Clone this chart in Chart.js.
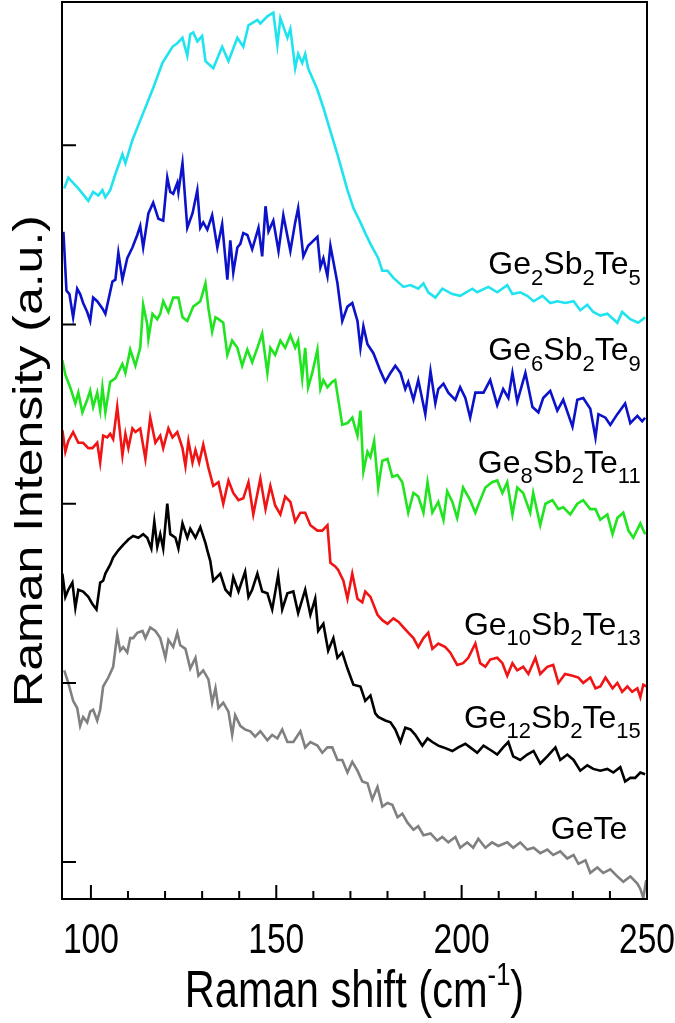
<!DOCTYPE html>
<html>
<head>
<meta charset="utf-8">
<script src="https://cdn.jsdelivr.net/npm/chart.js@4.4.1/dist/chart.umd.min.js"></script>
<style>
  html, body { margin: 0; padding: 0; background: #fff; }
  canvas { display: block; }
</style>
</head>
<body>
<canvas id="chart" width="675" height="1023"></canvas>
<script>
// AXIS TICKS
const xTicks = [100, 150, 200, 250];
const xMinorTicks = [110, 120, 130, 140, 160, 170, 180, 190, 210, 220, 230, 240];
const yTicks = [0, 100, 200, 300, 400];

// SAMPLE NAMES (digits are drawn as subscripts)
const sampleNames = ['Ge2Sb2Te5', 'Ge6Sb2Te9', 'Ge8Sb2Te11', 'Ge10Sb2Te13', 'Ge12Sb2Te15', 'GeTe'];

// Ge2Sb2Te5 (cyan)
const gst225X = [92.8, 93.9, 95.2, 96.6, 99.3, 100.6, 102.0, 103.1, 103.9, 105.2, 106.6, 108.5, 109.3, 111.2, 113.9, 116.8, 119.3, 122.0, 123.3, 124.7,
  126.0, 126.8, 127.6, 128.7, 130.0, 130.9, 133.0, 135.4, 137.1, 139.5, 141.1, 142.5, 144.9, 145.7, 147.6, 149.2, 150.3, 151.1, 153.0, 153.8,
  155.1, 155.9, 157.0, 157.8, 158.6, 161.1, 162.7, 164.6, 166.5, 169.2, 170.8, 172.7, 174.0, 175.4, 177.5, 178.6, 180.0, 181.6, 184.3, 186.2,
  188.3, 189.7, 191.0, 192.9, 194.8, 197.5, 199.6, 202.9, 204.2, 207.2, 209.6, 212.3, 213.7, 215.8, 217.7, 219.4, 221.8, 223.9, 225.8, 228.0,
  230.2, 232.0, 233.9, 235.5, 237.4, 239.3, 242.0, 243.3, 245.5, 247.6, 249.5];
const gst225Y = [376, 382, 379, 376, 369, 374, 372, 375, 371, 375, 384, 395, 390, 403, 417, 432, 446, 455, 457, 460,
  450, 462, 463, 458, 461, 447, 443, 455, 447, 460, 455, 467, 470, 468, 472, 474, 456, 471, 460, 465,
  443, 451, 446, 451, 443, 431, 421, 408, 395, 375, 365, 357, 351, 345, 337, 330, 330, 326, 321, 322,
  320, 323, 318, 315, 320, 317, 316, 320, 318, 321, 318, 322, 317, 318, 316, 313, 316, 312, 313, 312,
  313, 308, 311, 307, 305, 306, 301, 307, 303, 301, 304];

// Ge6Sb2Te9 (blue)
const gst629X = [92.2, 92.6, 93.4, 94.2, 95.2, 96.3, 97.1, 97.9, 99.0, 99.8, 100.6, 101.7, 103.1, 103.9, 105.8, 106.6, 107.4, 108.5, 109.8, 111.2,
  112.5, 113.3, 114.1, 115.5, 116.8, 118.2, 119.5, 120.6, 121.4, 122.2, 123.3, 123.6, 124.7, 126.0, 127.4, 128.7, 129.5, 130.3, 131.4, 132.7,
  134.1, 135.4, 136.8, 137.6, 138.4, 139.5, 140.3, 141.1, 142.2, 143.5, 145.2, 146.2, 147.1, 147.9, 149.2, 150.6, 151.9, 153.8, 155.1, 155.9,
  157.3, 158.6, 161.1, 161.9, 162.7, 163.8, 164.6, 166.5, 167.8, 169.2, 170.5, 171.9, 172.7, 173.5, 174.6, 176.2, 178.1, 179.4, 180.8, 182.1,
  183.5, 184.8, 185.6, 187.0, 188.3, 190.2, 191.6, 192.9, 193.7, 195.1, 196.4, 198.3, 199.6, 201.0, 202.3, 203.7, 205.9, 207.7, 209.6, 211.2,
  212.6, 213.7, 215.0, 217.2, 219.1, 220.7, 222.0, 223.9, 225.8, 227.4, 229.9, 231.2, 232.8, 234.7, 236.1, 236.9, 238.8, 240.1, 242.0, 244.1,
  245.5, 247.4, 248.7, 249.5];
const gst629Y = [351, 351, 319, 317, 304, 320, 317, 312, 307, 302, 315, 313, 309, 306, 324, 325, 340, 325, 337, 343,
  350, 355, 343, 362, 368, 359, 358, 382, 374, 373, 379, 374, 390, 354, 362, 375, 354, 357, 353, 361,
  343, 356, 325, 347, 329, 343, 345, 351, 350, 342, 354, 338, 366, 352, 358, 341, 361, 341, 357, 365,
  338, 344, 349, 332, 337, 327, 344, 323, 302, 310, 312, 302, 287, 299, 289, 284, 274, 268, 273, 277,
  273, 264, 268, 258, 269, 250, 274, 256, 264, 267, 262, 258, 265, 259, 248, 262, 262, 269, 255, 264,
  259, 273, 257, 273, 254, 251, 259, 263, 252, 258, 243, 258, 259, 253, 237, 250, 248, 244, 250, 256,
  245, 249, 246, 248];

// Ge8Sb2Te11 (green)
const gst8211X = [92.3, 93.1, 94.4, 95.8, 96.6, 97.7, 99.0, 99.8, 100.6, 101.7, 102.5, 103.1, 103.9, 105.2, 106.6, 108.5, 109.3, 110.6, 112.0, 113.3,
  114.1, 115.2, 115.5, 116.6, 117.9, 118.7, 119.5, 120.9, 122.2, 123.6, 124.7, 126.0, 127.6, 129.5, 130.9, 131.7, 132.7, 133.6, 134.4, 135.7,
  136.8, 138.1, 139.5, 140.8, 142.2, 143.5, 144.9, 146.2, 147.6, 148.4, 149.7, 151.1, 152.4, 153.8, 155.1, 155.9, 157.0, 157.8, 158.6, 159.7,
  161.1, 161.9, 162.7, 163.8, 165.1, 165.9, 167.8, 169.2, 170.5, 171.9, 172.7, 173.5, 174.6, 175.4, 176.4, 177.5, 178.6, 180.0, 181.3, 182.7,
  184.0, 185.6, 187.0, 188.3, 189.7, 190.8, 192.1, 193.7, 195.1, 196.1, 197.5, 198.8, 200.4, 202.3, 203.7, 205.0, 206.4, 208.2, 209.6, 211.0,
  212.3, 213.7, 215.0, 216.6, 218.5, 219.3, 221.2, 222.6, 224.5, 226.1, 227.4, 229.3, 231.2, 232.8, 234.7, 236.1, 237.4, 239.3, 240.7, 242.0,
  243.6, 245.0, 246.3, 248.2, 249.5];
const gst8211Y = [280, 272, 265, 256, 262, 251, 258, 263, 254, 262, 252, 265, 251, 268, 270, 278, 273, 286, 277, 287,
  311, 300, 292, 306, 303, 306, 313, 307, 315, 315, 304, 302, 310, 313, 323, 309, 296, 304, 303, 301,
  283, 291, 287, 277, 286, 279, 287, 295, 273, 287, 283, 291, 287, 294, 287, 291, 270, 287, 265, 273,
  286, 264, 269, 265, 268, 269, 244, 245, 248, 238, 252, 218, 229, 226, 235, 209, 224, 225, 215, 216,
  212, 195, 206, 204, 195, 212, 195, 201, 191, 207, 201, 192, 209, 202, 195, 202, 209, 212, 213, 206,
  212, 194, 209, 206, 195, 206, 188, 200, 202, 197, 198, 194, 200, 202, 197, 197, 191, 194, 183, 192,
  195, 185, 181, 189, 183];

// Ge10Sb2Te13 (red)
const gst10213X = [92.3, 93.1, 93.9, 95.2, 96.6, 97.9, 99.3, 100.4, 101.7, 102.5, 103.3, 104.4, 105.2, 106.0, 107.1, 108.5, 109.3, 110.1, 111.2, 112.0,
  113.3, 114.7, 116.0, 117.4, 118.7, 119.5, 120.9, 122.0, 123.3, 124.7, 125.5, 126.3, 127.4, 128.2, 129.2, 130.3, 131.7, 133.0, 134.4, 135.7,
  137.1, 138.4, 139.8, 141.1, 142.5, 143.8, 145.7, 147.1, 148.4, 149.7, 151.1, 152.4, 153.8, 155.1, 156.5, 157.8, 159.2, 161.1, 162.4, 163.8,
  164.6, 165.9, 166.7, 168.1, 169.2, 170.5, 171.9, 173.2, 174.0, 175.4, 177.3, 178.6, 180.0, 181.6, 183.0, 184.3, 185.6, 187.0, 188.3, 189.7,
  191.0, 192.1, 193.7, 195.6, 196.9, 198.8, 200.4, 201.8, 203.7, 205.0, 206.4, 207.7, 209.6, 211.0, 212.3, 213.7, 215.0, 216.6, 218.0, 219.9,
  221.2, 223.1, 224.7, 226.1, 227.9, 229.9, 231.5, 232.8, 234.7, 236.1, 237.4, 238.8, 240.7, 242.0, 243.3, 244.7, 246.0, 247.4, 248.2, 249.0,
  249.8];
const gst10213Y = [241, 229, 235, 240, 234, 234, 231, 231, 234, 223, 238, 237, 239, 236, 254, 227, 239, 231, 242, 240,
  242, 225, 248, 234, 238, 231, 242, 237, 240, 231, 221, 235, 223, 230, 223, 233, 220, 210, 212, 200,
  213, 206, 202, 203, 212, 194, 214, 197, 210, 199, 194, 204, 201, 190, 195, 195, 188, 185, 185, 188,
  167, 165, 163, 157, 147, 161, 147, 145, 151, 148, 138, 135, 133, 136, 134, 131, 128, 125, 120, 125,
  128, 119, 122, 120, 117, 110, 111, 114, 122, 111, 109, 113, 114, 111, 104, 111, 107, 109, 105, 114,
  105, 109, 110, 100, 105, 104, 103, 100, 103, 97, 98, 103, 97, 100, 95, 98, 95, 97, 92, 99,
  98];

// Ge12Sb2Te15 (black)
const gst12215X = [92.3, 93.1, 93.9, 95.0, 95.8, 96.6, 97.9, 99.3, 100.4, 101.5, 102.5, 103.3, 103.9, 105.2, 106.0, 107.4, 108.7, 110.1, 111.4, 112.8,
  114.1, 115.2, 116.3, 117.1, 117.9, 118.7, 119.5, 120.6, 121.4, 122.8, 123.6, 124.7, 126.0, 126.8, 128.2, 129.5, 130.9, 131.4, 132.2, 133.0,
  134.9, 136.3, 137.6, 138.4, 139.8, 141.6, 142.5, 143.5, 144.9, 146.2, 147.6, 148.9, 150.5, 151.6, 153.0, 154.6, 155.9, 157.8, 159.2, 160.5,
  161.3, 162.7, 164.0, 165.4, 166.5, 167.8, 169.2, 170.8, 172.7, 174.0, 175.4, 176.7, 177.5, 179.4, 180.8, 182.1, 183.5, 184.8, 186.2, 187.5,
  189.4, 190.8, 192.1, 193.7, 195.1, 197.5, 199.1, 201.0, 202.3, 204.2, 205.9, 208.2, 209.6, 211.2, 212.6, 213.9, 215.8, 217.7, 219.4, 221.2,
  223.1, 225.3, 226.6, 228.5, 230.2, 232.0, 233.9, 235.5, 237.4, 239.3, 240.9, 242.8, 244.1, 245.5, 246.8, 248.2, 249.5];
const gst12215Y = [161, 148, 152, 156, 142, 152, 151, 148, 144, 141, 156, 157, 161, 166, 170, 174, 177, 180, 182, 181,
  183, 181, 175, 190, 176, 183, 175, 200, 183, 181, 175, 189, 181, 186, 181, 187, 178, 174, 168, 157,
  161, 152, 149, 159, 151, 162, 148, 152, 161, 151, 150, 141, 160, 141, 150, 151, 139, 152, 138, 147,
  129, 133, 118, 125, 114, 117, 108, 99, 98, 90, 93, 83, 81, 79, 78, 74, 67, 75, 74, 71,
  65, 69, 67, 65, 64, 62, 64, 66, 64, 61, 65, 62, 60, 64, 67, 59, 57, 60, 62, 55,
  59, 64, 57, 60, 57, 51, 54, 52, 51, 52, 50, 53, 45, 47, 47, 50, 49];

// GeTe (gray)
const geteX = [92.8, 93.9, 95.2, 96.3, 97.1, 97.9, 99.0, 99.8, 100.6, 101.7, 102.5, 103.3, 104.7, 106.0, 107.1, 107.9, 108.7, 109.8, 110.6, 111.4,
  112.5, 113.9, 114.7, 116.0, 117.4, 118.7, 120.1, 120.9, 122.2, 123.3, 124.1, 125.5, 126.8, 128.2, 129.0, 130.3, 131.7, 132.7, 133.6, 134.4,
  135.7, 137.1, 138.1, 138.9, 140.3, 141.6, 143.0, 144.3, 145.7, 147.6, 148.9, 150.3, 151.6, 153.0, 154.6, 156.5, 157.8, 159.2, 161.1, 162.4,
  163.8, 165.1, 166.5, 167.8, 169.2, 170.5, 171.9, 173.2, 174.6, 175.9, 177.3, 178.6, 180.0, 181.3, 182.7, 184.0, 185.4, 187.0, 188.3, 189.7,
  191.6, 193.4, 194.8, 196.4, 198.3, 199.6, 201.5, 203.1, 204.5, 206.4, 208.2, 209.9, 212.3, 213.9, 215.8, 217.7, 219.4, 221.2, 223.1, 224.7,
  226.6, 228.5, 230.2, 231.5, 233.4, 234.7, 236.6, 238.2, 240.1, 242.0, 243.6, 245.5, 247.4, 248.2, 249.0, 249.8];
const geteY = [107, 100, 90, 86, 76, 81, 78, 84, 85, 79, 85, 98, 103, 109, 127, 118, 120, 117, 125, 125,
  128, 129, 125, 131, 129, 125, 114, 124, 120, 128, 121, 119, 108, 114, 104, 107, 102, 89, 97, 86,
  89, 84, 71, 82, 76, 74, 73, 70, 73, 68, 71, 69, 74, 67, 67, 73, 64, 67, 65, 61,
  64, 64, 57, 57, 50, 56, 51, 45, 44, 35, 42, 31, 33, 32, 25, 27, 22, 18, 20, 15,
  16, 12, 14, 11, 14, 8, 11, 8, 13, 8, 11, 9, 11, 8, 11, 7, 8, 5, 7, 4,
  6, 2, 4, -1, 1, -6, -3, -6, -4, -8, -11, -8, -12, -15, -20, -10];

const seriesX = [gst225X, gst629X, gst8211X, gst10213X, gst12215X, geteX];
const seriesY = [gst225Y, gst629Y, gst8211Y, gst10213Y, gst12215Y, geteY];
const seriesColors = ['#1fe3ee', '#0b12c9', '#1fe41f', '#f01414', '#000000', '#808080'];

const LABEL_FONT = '"Liberation Sans", Arial, sans-serif';

// draws "Ge10Sb2Te13" with the digits as subscripts, right aligned at xr
function drawFormula(ctx, text, xr, yb, size) {
  const parts = text.match(/[A-Za-z]+|\d+/g);
  const subSize = Math.round(size * 0.68);
  const widths = parts.map(p => {
    ctx.font = (/\d/.test(p) ? subSize : size) + 'px ' + LABEL_FONT;
    return ctx.measureText(p).width;
  });
  let x = xr - widths.reduce((a, b) => a + b, 0);
  parts.forEach((p, i) => {
    const sub = /\d/.test(p);
    ctx.font = (sub ? subSize : size) + 'px ' + LABEL_FONT;
    ctx.fillText(p, x, sub ? yb + size * 0.32 : yb);
    x += widths[i];
  });
}

const decorPlugin = {
  id: 'decor',
  afterDraw(chart, args, opts) {
    const { ctx, chartArea: a, scales: { x, y } } = chart;
    ctx.save();
    ctx.strokeStyle = '#000';
    ctx.lineWidth = 2;
    ctx.strokeRect(a.left, a.top, a.right - a.left, a.bottom - a.top);

    // inward tick marks
    ctx.beginPath();
    xTicks.forEach(v => {
      const px = x.getPixelForValue(v);
      ctx.moveTo(px, a.bottom); ctx.lineTo(px, a.bottom - 14);
    });
    xMinorTicks.forEach(v => {
      const px = x.getPixelForValue(v);
      ctx.moveTo(px, a.bottom); ctx.lineTo(px, a.bottom - 8);
    });
    yTicks.forEach(v => {
      const py = y.getPixelForValue(v);
      ctx.moveTo(a.left, py); ctx.lineTo(a.left + 14, py);
    });
    ctx.stroke();

    ctx.fillStyle = '#000';
    ctx.textBaseline = 'alphabetic';

    // x tick labels, condensed like the original
    ctx.textAlign = 'center';
    ctx.font = '42px ' + LABEL_FONT;
    x.ticks.forEach(t => {
      ctx.save();
      ctx.translate(x.getPixelForValue(t.value), a.bottom + 54);
      ctx.scale(0.8, 1);
      ctx.fillText(String(t.value), 0, 0);
      ctx.restore();
    });

    // sample labels
    ctx.textAlign = 'left';
    opts.labels.forEach((l, i) => {
      drawFormula(ctx, sampleNames[i], x.getPixelForValue(l.x), y.getPixelForValue(l.y), 32);
    });

    // x title with superscript, condensed
    const cx = (a.left + a.right) / 2;
    const big = 52, small = 32;
    ctx.save();
    ctx.translate(cx, 1007);
    ctx.scale(0.8, 1);
    ctx.font = big + 'px ' + LABEL_FONT;
    const t1 = 'Raman shift (cm', t3 = ')';
    const w1 = ctx.measureText(t1).width, w3 = ctx.measureText(t3).width;
    ctx.font = small + 'px ' + LABEL_FONT;
    const t2 = '-1';
    const w2 = ctx.measureText(t2).width;
    let sx = -(w1 + w2 + w3) / 2;
    ctx.font = big + 'px ' + LABEL_FONT;
    ctx.fillText(t1, sx, 0); sx += w1;
    ctx.font = small + 'px ' + LABEL_FONT;
    ctx.fillText(t2, sx, -big * 0.42); sx += w2;
    ctx.font = big + 'px ' + LABEL_FONT;
    ctx.fillText(t3, sx, 0);
    ctx.restore();

    // y title, rotated and condensed
    ctx.save();
    ctx.translate(42, 461);
    ctx.rotate(-Math.PI / 2);
    ctx.scale(1, 0.8);
    ctx.textAlign = 'center';
    ctx.font = '50px ' + LABEL_FONT;
    ctx.fillText('Raman Intensity (a.u.)', 0, 0);
    ctx.restore();

    ctx.restore();
  }
};

new Chart(document.getElementById('chart'), {
  type: 'line',
  data: {
    datasets: seriesX.map((xs, i) => ({
      label: sampleNames[i],
      data: xs.map((v, j) => ({ x: v, y: seriesY[i][j] })),
      borderColor: seriesColors[i],
      borderWidth: 2.6,
      pointRadius: 0,
      tension: 0,
      fill: false
    }))
  },
  options: {
    responsive: false,
    animation: false,
    devicePixelRatio: 1,
    layout: { padding: { top: 2, right: 28, left: 0, bottom: 0 } },
    plugins: {
      legend: { display: false },
      tooltip: { enabled: false },
      decor: {
        labels: [
          { x: 248.3, y: 328 },
          { x: 248.3, y: 280 },
          { x: 248.3, y: 217 },
          { x: 248.3, y: 127 },
          { x: 248.3, y: 75 },
          { x: 244.7, y: 13 }
        ]
      }
    },
    scales: {
      x: {
        type: 'linear',
        min: 92.2,
        max: 250,
        afterBuildTicks: s => { s.ticks = xTicks.map(v => ({ value: v })); },
        afterFit: s => { s.height = 124; s.paddingLeft = 0; s.paddingRight = 0; },
        grid: { display: false, drawTicks: false },
        border: { display: false },
        ticks: { display: false }
      },
      y: {
        type: 'linear',
        min: -20.6,
        max: 480,
        afterBuildTicks: s => { s.ticks = yTicks.map(v => ({ value: v })); },
        afterFit: s => { s.width = 62; },
        grid: { display: false, drawTicks: false },
        border: { display: false },
        ticks: { display: false }
      }
    }
  },
  plugins: [decorPlugin]
});
</script>
</body>
</html>
